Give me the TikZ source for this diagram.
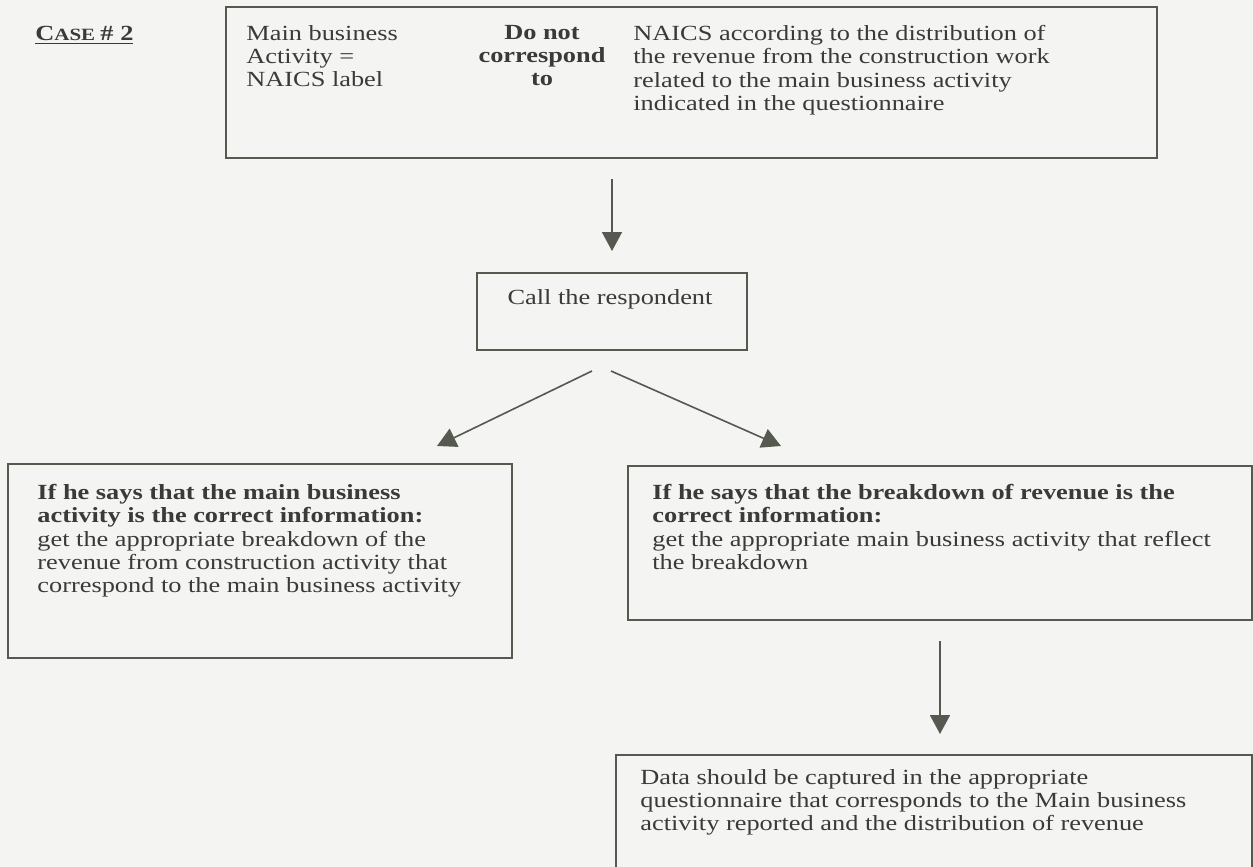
\documentclass[tikz,border=0pt]{standalone}
\usepackage{fontspec}
\setmainfont{Liberation Serif}[FakeStretch=1.22]
\usetikzlibrary{calc,arrows.meta}
\definecolor{ink}{HTML}{3A3A38}
\definecolor{edge}{HTML}{55594F}
\definecolor{paper}{HTML}{F4F4F2}
\newcommand{\bodyfont}{\fontsize{10.8}{11.6}\selectfont}
\newcommand{\smallcapfont}{\fontsize{8.6}{9}\selectfont}
\tikzset{
  box/.style={draw=edge, line width=1pt, inner sep=0},
  txt/.style={text=ink, inner sep=0, anchor=north west, align=left, font=\bodyfont},
  arr/.style={draw=edge, line width=0.8pt, -{Triangle[length=9.5pt,width=10pt]}},
}
\begin{document}
\setlength{\lineskiplimit}{-8pt}
\begin{tikzpicture}[x=0.5pt,y=-0.5pt]
\useasboundingbox (0,0) rectangle (1253,867);
\clip (0,0) rectangle (1253,867);
\fill[paper] (0,0) rectangle (1253,867);

\node[txt, anchor=base west] (case) at (35,40) {\bfseries\underline{C\smallcapfont ASE \bodyfont\# 2}};

\node[box, minimum width=465.5pt, minimum height=75.5pt] (top) at (691.5,82.5) {};
\node[txt] (c1) at (246,25) {Main business\\Activity =\\NAICS label};
\node[txt, anchor=north, align=center] (c2) at (542,25) {\textbf{Do not}\\\textbf{correspond}\\\textbf{to}};
\node[txt] (c3) at (633,25) {NAICS according to the distribution of\\the revenue from the construction work\\related to the main business activity\\indicated in the questionnaire};

\node[box, minimum width=135pt, minimum height=38.5pt] (call) at (612,311.5) {};
\node[txt, anchor=base] (calltxt) at (610,304) {Call the respondent};

\node[box, minimum width=252pt, minimum height=97pt] (left) at (260,561) {};
\node[txt] (lefttxt) at (37,484) {\textbf{If he says that the main business}\\\textbf{activity is the correct information:}\\get the appropriate breakdown of the\\revenue from construction activity that\\correspond to the main business activity};

\node[box, minimum width=312pt, minimum height=77pt] (right) at (940,543) {};
\node[txt] (righttxt) at (652,484) {\textbf{If he says that the breakdown of revenue is the}\\\textbf{correct information:}\\get the appropriate main business activity that reflect\\the breakdown};

\node[box, minimum width=318pt, minimum height=82.5pt] (bottom) at (934,837.5) {};
\node[txt] (bottomtxt) at (640,769) {Data should be captured in the appropriate\\questionnaire that corresponds to the Main business\\activity reported and the distribution of revenue};

\draw[arr, shorten <=10pt, shorten >=10.5pt] (call.north |- top.south) -- (call.north);
\draw[arr] ($(call.south)+(-20,20)$) -- ($(left.north west)+(430,-17)$);
\draw[arr] ($(call.south)+(-1,20)$) -- ($(right.north west)+(154,-19)$);
\draw[arr, shorten <=10pt, shorten >=10pt] (right.south) -- (bottom.north -| right.south);
\end{tikzpicture}
\end{document}
